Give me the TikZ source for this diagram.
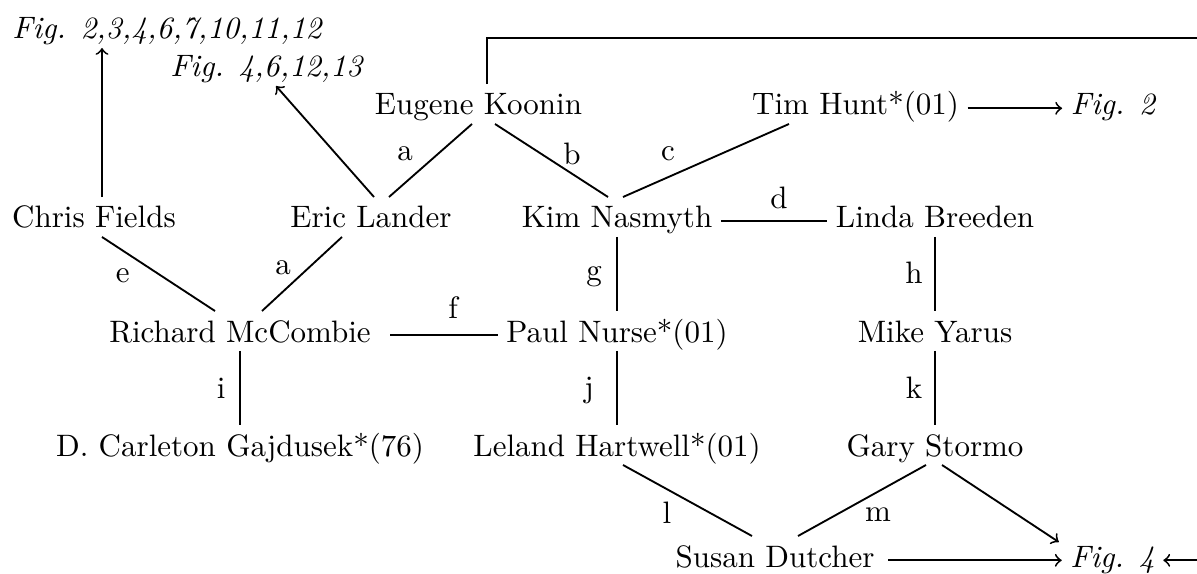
\documentclass[tikz,border=0pt]{standalone}
\usepackage{tikz}
\usetikzlibrary{%
	calc,%
	arrows%
}
\tikzset{
	person/.style={anchor=base,inner xsep=2.5pt,inner ysep=0pt,text height=9.7pt,text depth=2.6pt},
	tag/.style={inner sep=0pt}
}

\begin{document}
\begin{tikzpicture}[x=0.3226pt,y=-0.3226pt,semithick]
			\useasboundingbox (0,0) rectangle (1197,574);
			% figure references
			\node[person] (figmany) at (167.5,39) {\textit{Fig. 2,3,4,6,7,10,11,12}};
			\node[person] (figsome) at (267,77) {\textit{Fig. 4,6,12,13}};
			\node[person] (figtwo) at (1113.5,115) {\textit{Fig. 2}};
			\node[person] (figfour) at (1112.5,567) {\textit{Fig. 4}};
			% people
			\node[person] (koonin) at (478.5,115) {Eugene Koonin};
			\node[person] (hunt) at (855.5,115) {Tim Hunt*(01)};
			\node[person] (fields) at (94,228) {Chris Fields};
			\node[person] (lander) at (371,228) {Eric Lander};
			\node[person] (nasmyth) at (617,228) {Kim Nasmyth};
			\node[person] (breeden) at (935,228) {Linda Breeden};
			\node[person] (mccombie) at (240,342) {Richard McCombie};
			\node[person] (nurse) at (617,342) {Paul Nurse*(01)};
			\node[person] (yarus) at (935,342) {Mike Yarus};
			\node[person] (gajdusek) at (240,456) {D. Carleton Gajdusek*(76)};
			\node[person] (hartwell) at (617,456) {Leland Hartwell*(01)};
			\node[person] (stormo) at (935,456) {Gary Stormo};
			\node[person] (dutcher) at (775,567) {Susan Dutcher};
			\draw     ($(koonin.south)+(-6.5,0)$) edge node[tag,xshift=-8.2pt,yshift=2.1pt] {a} ($(lander.north)+(18,0)$)
			($(koonin.south)+(16.5,0)$) edge node[tag,xshift=6.6pt,yshift=2.1pt] {b} ($(nasmyth.north)+(-9,0)$)
			($(hunt.south)+(-66.5,0)$) edge node[tag,xshift=-12.3pt,yshift=2.1pt] {c} ($(nasmyth.north)+(6,0)$)
			(nasmyth.mid east) edge node[tag,xshift=1.6pt,yshift=7.4pt] {d} (breeden.mid west)
			($(fields.south)+(8,0)$) edge node[tag,xshift=-11.5pt,yshift=-0.5pt] {e} ($(mccombie.north)+(-25,0)$)
			($(lander.south)+(-29,0)$) edge node[tag,xshift=-6.1pt,yshift=2.1pt] {a} ($(mccombie.north)+(22,0)$)
			($(mccombie.mid east)+(11,0)$) edge node[tag,xshift=2.9pt,yshift=9pt] {f} (nurse.mid west)
			(nasmyth.south) edge node[tag,xshift=-7.4pt,yshift=-0.8pt] {g} (nurse.north)
			(breeden.south) edge node[tag,xshift=-6.8pt,yshift=0.5pt] {h} (yarus.north)
			(mccombie.south) edge node[tag,xshift=-6.1pt] {i} (gajdusek.north)
			(nurse.south) edge node[tag,xshift=-9pt,yshift=-0.8pt] {j} (hartwell.north)
			(yarus.south) edge node[tag,xshift=-6.8pt] {k} (stormo.north)
			($(hartwell.south)+(6,0)$) edge node[tag,xshift=-6.6pt,yshift=-4pt] {l} ($(dutcher.north)+(-23,0)$)
			($(stormo.south)+(-9,0)$) edge node[tag,xshift=5.2pt,yshift=-4.7pt] {m} ($(dutcher.north)+(23,0)$)
			;
			\draw ($(fields.north)+(8,0)$) edge[->] ($(figmany.south)+(-65.5,0)$)
			($(lander.north)+(3,0)$) edge[->] ($(figsome.south)+(9,0)$)
			(hunt.mid east) edge[->] (figtwo.mid west)
			($(stormo.south)+(7,0)$) edge[->] ($(figfour.north west)+(-3,6)$)
			($(dutcher.mid east)+(5,0)$) edge[->] (figfour.mid west)
			;
			\draw[->] ($(koonin.north)+(8.5,0)$) -- ++(0,-46) -| ($(figfour.mid east)+(100,0)$) -- (figfour.mid east);
		\end{tikzpicture}
\end{document}
